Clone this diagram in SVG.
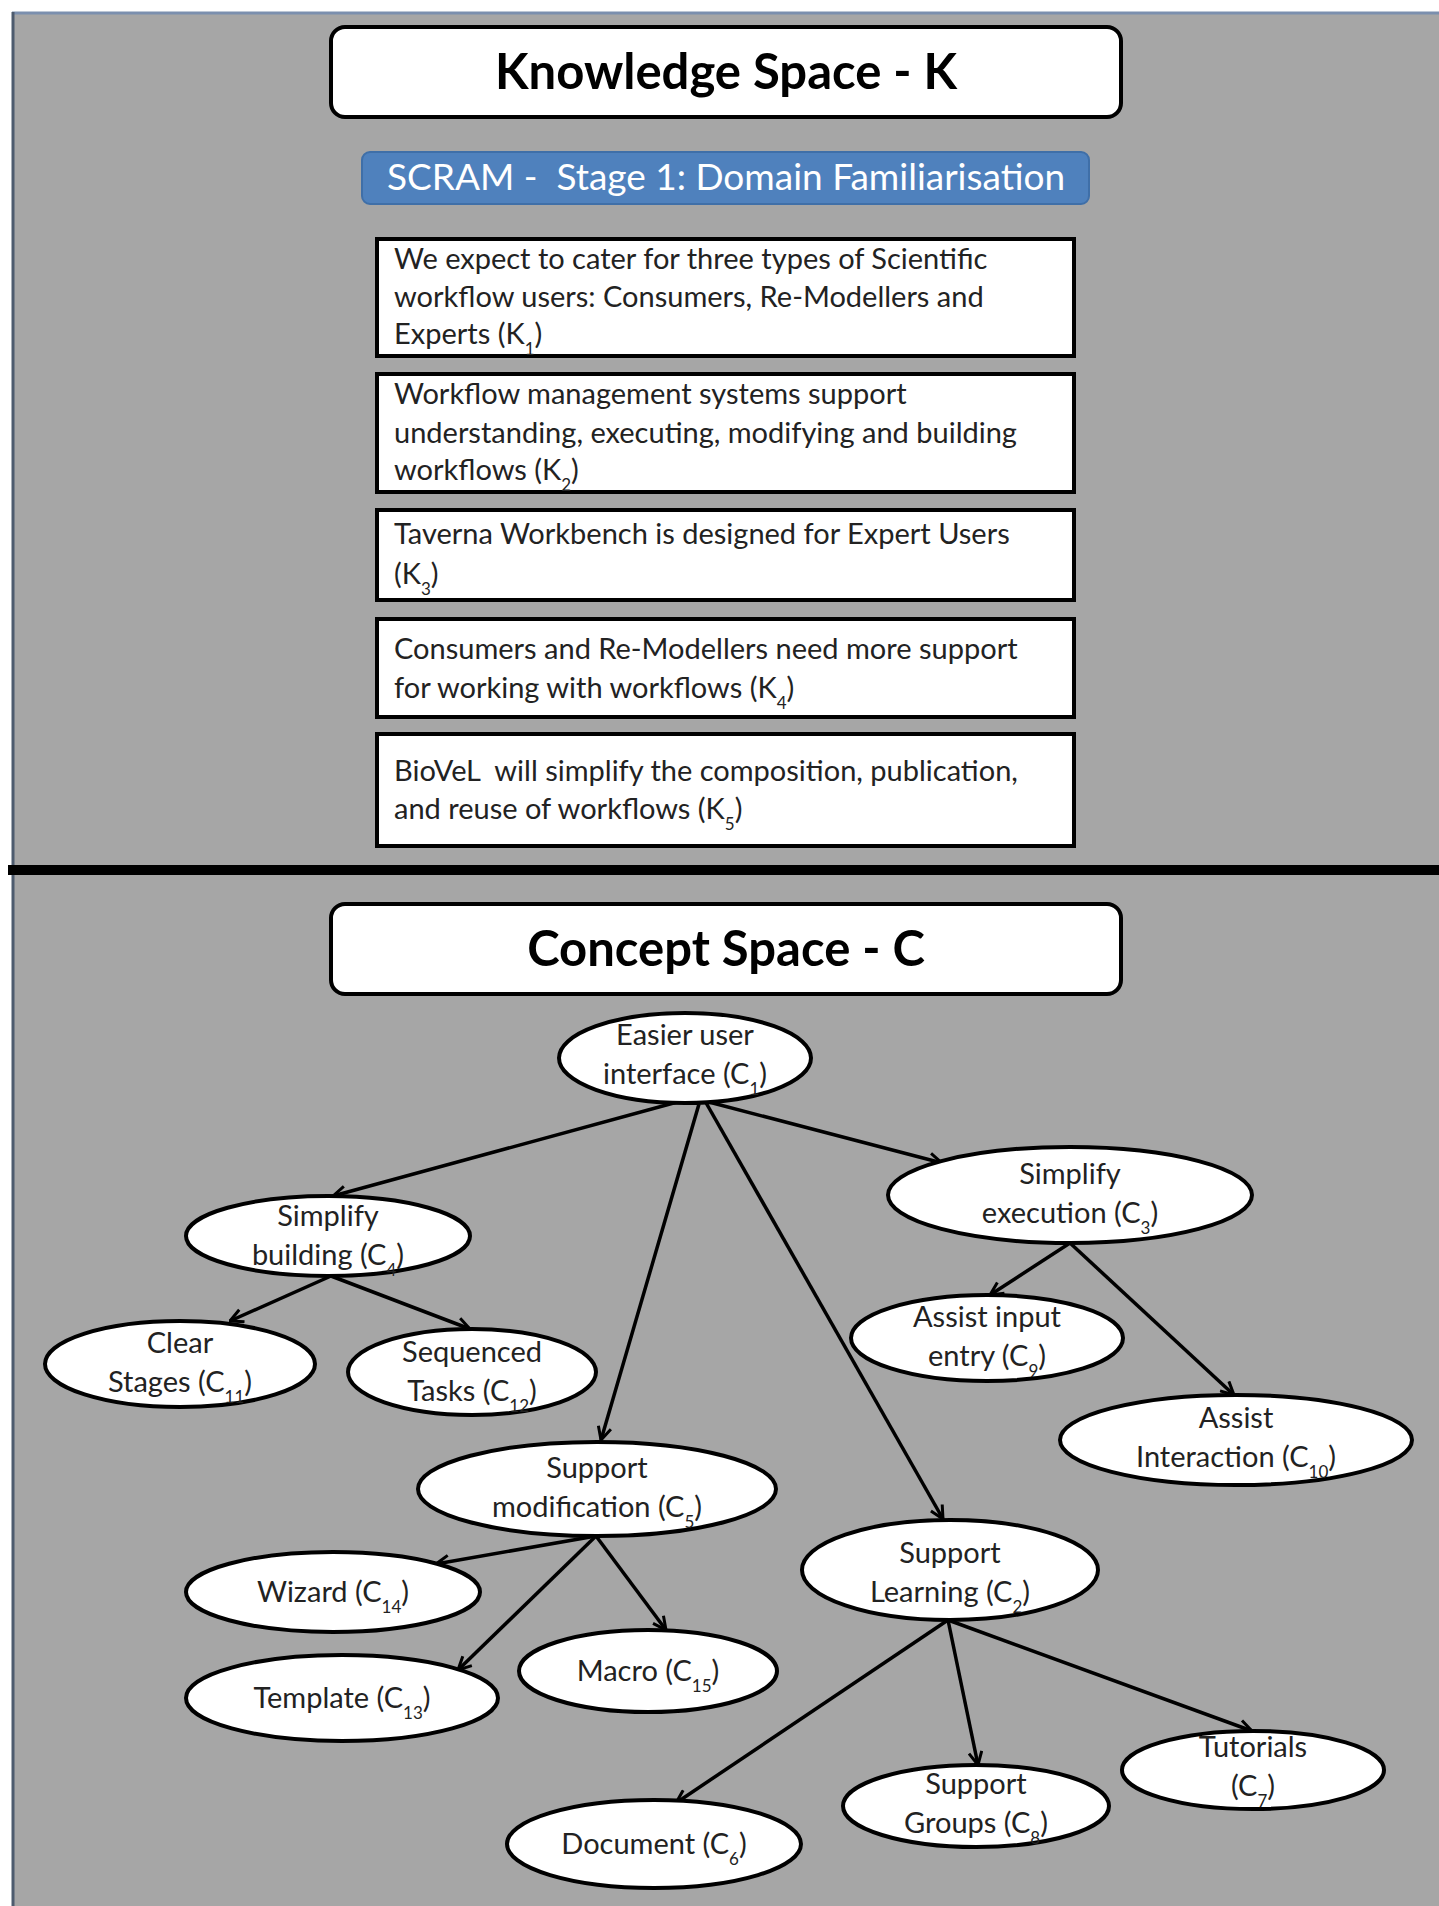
<svg xmlns="http://www.w3.org/2000/svg" width="1439" height="1906" viewBox="0 0 1439 1906">
<defs>
<marker id="arr" viewBox="0 0 16 16" refX="15" refY="8" markerWidth="16" markerHeight="16" markerUnits="userSpaceOnUse" orient="auto">
<path d="M2,1.5 L15,8 L2,14.5" fill="none" stroke="#000" stroke-width="3"/>
</marker>
</defs>
<style>
.panel{fill:#a6a6a6}
.title{fill:#fff;stroke:#000;stroke-width:4}
.ttext{font-family:Lato,"Open Sans","Liberation Sans",sans-serif;font-weight:bold;font-size:49px;fill:#000;text-anchor:middle}
.kbox{fill:#fff;stroke:#000;stroke-width:4}
.ktext{font-family:Lato,"Open Sans","Liberation Sans",sans-serif;font-size:29px;fill:#222}
.node{fill:#fff;stroke:#000;stroke-width:4}
.ntext{font-family:Lato,"Open Sans","Liberation Sans",sans-serif;font-size:29px;fill:#222;text-anchor:middle}
.sub{font-size:17px}
.edge{stroke:#000;stroke-width:3.5;fill:none;marker-end:url(#arr)}
</style>
<rect x="0" y="0" width="1439" height="1906" fill="#fff"/>
<rect class="panel" x="12" y="12" width="1427" height="1894"/>
<line x1="12" y1="13" x2="1439" y2="13" stroke="#7b8fae" stroke-width="3"/>
<line x1="13" y1="12" x2="13" y2="1906" stroke="#4d5b6e" stroke-width="3"/>
<line id="divider" x1="8" y1="870" x2="1439" y2="870" stroke="#000" stroke-width="10"/>

<g id="k-title">
<rect class="title" x="331" y="27" width="790" height="90" rx="14"/>
<text class="ttext" x="726" y="89">Knowledge Space - K</text>
</g>
<g id="scram">
<rect x="362" y="152" width="727" height="52" rx="8" fill="#4f81bd" stroke="#3f6fa8" stroke-width="2"/>
<text x="726" y="190" font-family="Lato,'Open Sans','Liberation Sans',sans-serif" font-size="37" fill="#fff" text-anchor="middle" xml:space="preserve">SCRAM -  Stage 1: Domain Familiarisation</text>
</g>
<g id="k1">
<rect class="kbox" x="377" y="239" width="697" height="117"/>
<text class="ktext" x="394" y="269">We expect to cater for three types of Scientific</text>
<text class="ktext" x="394" y="307">workflow users: Consumers, Re-Modellers and</text>
<text class="ktext" x="394" y="344">Experts (K<tspan class="sub" baseline-shift="sub">1</tspan>)</text>
</g>
<g id="k2">
<rect class="kbox" x="377" y="374" width="697" height="118"/>
<text class="ktext" x="394" y="404">Workflow management systems support</text>
<text class="ktext" x="394" y="443">understanding, executing, modifying and building</text>
<text class="ktext" x="394" y="480">workflows (K<tspan class="sub" baseline-shift="sub">2</tspan>)</text>
</g>
<g id="k3">
<rect class="kbox" x="377" y="510" width="697" height="90"/>
<text class="ktext" x="394" y="544">Taverna Workbench is designed for Expert Users</text>
<text class="ktext" x="394" y="584">(K<tspan class="sub" baseline-shift="sub">3</tspan>)</text>
</g>
<g id="k4">
<rect class="kbox" x="377" y="619" width="697" height="98"/>
<text class="ktext" x="394" y="659">Consumers and Re-Modellers need more support</text>
<text class="ktext" x="394" y="698">for working with workflows (K<tspan class="sub" baseline-shift="sub">4</tspan>)</text>
</g>
<g id="k5">
<rect class="kbox" x="377" y="734" width="697" height="112"/>
<text class="ktext" x="394" y="781" xml:space="preserve">BioVeL  will simplify the composition, publication,</text>
<text class="ktext" x="394" y="819">and reuse of workflows (K<tspan class="sub" baseline-shift="sub">5</tspan>)</text>
</g>

<g id="c-title">
<rect class="title" x="331" y="904" width="790" height="90" rx="14"/>
<text class="ttext" x="726" y="966">Concept Space - C</text>
</g>

<g id="connectors">
<line class="edge" x1="681" y1="1101" x2="333" y2="1196"/>
<line class="edge" x1="705" y1="1101" x2="942" y2="1163"/>
<line class="edge" x1="699" y1="1104" x2="601" y2="1440"/>
<line class="edge" x1="705" y1="1101" x2="943" y2="1519"/>
<line class="edge" x1="331" y1="1276" x2="230" y2="1321"/>
<line class="edge" x1="331" y1="1276" x2="470" y2="1329"/>
<line class="edge" x1="1070" y1="1243" x2="990" y2="1295"/>
<line class="edge" x1="1070" y1="1243" x2="1234" y2="1395"/>
<line class="edge" x1="596" y1="1536" x2="436" y2="1564"/>
<line class="edge" x1="596" y1="1536" x2="458" y2="1670"/>
<line class="edge" x1="596" y1="1536" x2="666" y2="1630"/>
<line class="edge" x1="948" y1="1620" x2="676" y2="1803"/>
<line class="edge" x1="948" y1="1620" x2="978" y2="1765"/>
<line class="edge" x1="948" y1="1620" x2="1252" y2="1731"/>
</g>

<g id="c1">
<ellipse class="node" cx="685" cy="1058" rx="126" ry="45"/>
<text class="ntext" x="685" y="1045">Easier user</text>
<text class="ntext" x="685" y="1084">interface (C<tspan class="sub" baseline-shift="sub">1</tspan>)</text>
</g>
<g id="c4">
<ellipse class="node" cx="328" cy="1236" rx="142" ry="40"/>
<text class="ntext" x="328" y="1226">Simplify</text>
<text class="ntext" x="328" y="1265">building (C<tspan class="sub" baseline-shift="sub">4</tspan>)</text>
</g>
<g id="c3">
<ellipse class="node" cx="1070" cy="1195" rx="182" ry="48"/>
<text class="ntext" x="1070" y="1184">Simplify</text>
<text class="ntext" x="1070" y="1223">execution (C<tspan class="sub" baseline-shift="sub">3</tspan>)</text>
</g>
<g id="c11">
<ellipse class="node" cx="180" cy="1364" rx="135" ry="43"/>
<text class="ntext" x="180" y="1353">Clear</text>
<text class="ntext" x="180" y="1392">Stages (C<tspan class="sub" baseline-shift="sub">11</tspan>)</text>
</g>
<g id="c12">
<ellipse class="node" cx="472" cy="1372" rx="124" ry="43"/>
<text class="ntext" x="472" y="1362">Sequenced</text>
<text class="ntext" x="472" y="1401">Tasks (C<tspan class="sub" baseline-shift="sub">12</tspan>)</text>
</g>
<g id="c9">
<ellipse class="node" cx="987" cy="1338" rx="136" ry="43"/>
<text class="ntext" x="987" y="1327">Assist input</text>
<text class="ntext" x="987" y="1366">entry (C<tspan class="sub" baseline-shift="sub">9</tspan>)</text>
</g>
<g id="c10">
<ellipse class="node" cx="1236" cy="1440" rx="176" ry="45"/>
<text class="ntext" x="1236" y="1428">Assist</text>
<text class="ntext" x="1236" y="1467">Interaction (C<tspan class="sub" baseline-shift="sub">10</tspan>)</text>
</g>
<g id="c5">
<ellipse class="node" cx="597" cy="1489" rx="179" ry="47"/>
<text class="ntext" x="597" y="1478">Support</text>
<text class="ntext" x="597" y="1517">modification (C<tspan class="sub" baseline-shift="sub">5</tspan>)</text>
</g>
<g id="c2">
<ellipse class="node" cx="950" cy="1570" rx="148" ry="50"/>
<text class="ntext" x="950" y="1563">Support</text>
<text class="ntext" x="950" y="1602">Learning (C<tspan class="sub" baseline-shift="sub">2</tspan>)</text>
</g>
<g id="c14">
<ellipse class="node" cx="333" cy="1592" rx="147" ry="40"/>
<text class="ntext" x="333" y="1602">Wizard (C<tspan class="sub" baseline-shift="sub">14</tspan>)</text>
</g>
<g id="c15">
<ellipse class="node" cx="648" cy="1671" rx="129" ry="41"/>
<text class="ntext" x="648" y="1681">Macro (C<tspan class="sub" baseline-shift="sub">15</tspan>)</text>
</g>
<g id="c13">
<ellipse class="node" cx="342" cy="1698" rx="156" ry="43"/>
<text class="ntext" x="342" y="1708">Template (C<tspan class="sub" baseline-shift="sub">13</tspan>)</text>
</g>
<g id="c7">
<ellipse class="node" cx="1253" cy="1770" rx="131" ry="39"/>
<text class="ntext" x="1253" y="1757">Tutorials</text>
<text class="ntext" x="1253" y="1796">(C<tspan class="sub" baseline-shift="sub">7</tspan>)</text>
</g>
<g id="c8">
<ellipse class="node" cx="976" cy="1806" rx="133" ry="41"/>
<text class="ntext" x="976" y="1794">Support</text>
<text class="ntext" x="976" y="1833">Groups (C<tspan class="sub" baseline-shift="sub">8</tspan>)</text>
</g>
<g id="c6">
<ellipse class="node" cx="654" cy="1844" rx="147" ry="44"/>
<text class="ntext" x="654" y="1854">Document (C<tspan class="sub" baseline-shift="sub">6</tspan>)</text>
</g>
</svg>
